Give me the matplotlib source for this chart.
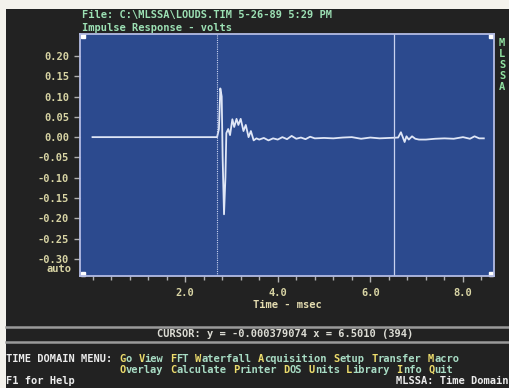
import matplotlib
matplotlib.use("Agg")
import matplotlib.pyplot as plt
from matplotlib.patches import Rectangle
from matplotlib.ticker import MultipleLocator, FixedLocator

# impulse response (msec, volts)
time_ms = [0.0, 1.0, 2.0, 2.69, 2.73, 2.76, 2.79, 2.81, 2.84, 2.87, 2.89, 2.93,
           2.97, 3.02, 3.06, 3.11, 3.15, 3.20, 3.26, 3.31, 3.37, 3.42, 3.48,
           3.54, 3.60, 3.70, 3.80, 3.90, 4.00, 4.10, 4.20, 4.30, 4.40, 4.50,
           4.60, 4.70, 4.80, 5.00, 5.20, 5.40, 5.60, 5.80, 6.00, 6.20, 6.40,
           6.60, 6.66, 6.70, 6.74, 6.78, 6.83, 6.90, 6.97, 7.05, 7.20, 7.40,
           7.60, 7.80, 8.00, 8.15, 8.25, 8.35, 8.45]
volts = [0.0, 0.0, 0.0, 0.0, 0.02, 0.12, 0.10, -0.05, -0.19, -0.10, 0.01, 0.02,
         0.005, 0.044, 0.025, 0.045, 0.03, 0.045, 0.015, 0.03, 0.0, 0.015, -0.008,
         -0.003, -0.006, -0.002, -0.008, -0.003, -0.006, 0.0, -0.005, 0.003, -0.004, -0.001,
         -0.005, 0.001, -0.003, -0.002, -0.003, -0.001, 0.0, -0.004, -0.001, -0.003, -0.002,
         -0.001, 0.012, 0.0, -0.012, 0.002, -0.006, 0.002, -0.004, -0.006, -0.006, -0.004,
         -0.003, -0.004, 0.0, -0.004, 0.002, -0.003, -0.003]

y_ticks = [-0.30, -0.25, -0.20, -0.15, -0.10, -0.05, 0.00, 0.05, 0.10, 0.15, 0.20]
x_ticks = [2.0, 4.0, 6.0, 8.0]
marker_x = 2.69
cursor_x = 6.5010

menu1 = ["Go", "View", "FFT", "Waterfall", "Acquisition", "Setup", "Transfer", "Macro"]
menu2 = ["Overlay", "Calculate", "Printer", "DOS", "Units", "Library", "Info", "Quit"]

W, H = 509, 388
FONT = "DejaVu Sans Mono"
FS = 7.5
CW = 6.3  # pixel width of one character

fig = plt.figure(figsize=(W / 100, H / 100), dpi=100)
fig.patch.set_facecolor("#f4f2ec")
fig.add_artist(Rectangle((6 / W, 0), 1, 1 - 9 / H, transform=fig.transFigure,
                         facecolor="#222222", edgecolor="none", zorder=0))


def put(x, y, s, color, ha="left"):
    fig.text(x / W, 1 - y / H, s, color=color, ha=ha, va="center",
             family=FONT, fontsize=FS, fontweight="bold")


ax = fig.add_axes([80 / W, 1 - 276 / H, (494 - 80) / W, (276 - 34) / H])
ax.set_facecolor("#2c4a8e")
ax.plot(time_ms, volts, color="#dfe6f6", lw=1.3)
ax.axvline(marker_x, color="#c8d2f0", lw=0.8, ls=(0, (1, 1)))
ax.axvline(cursor_x, color="#c8d2f0", lw=0.9)
ax.set_xlim(-0.27, 8.67)
ax.set_ylim(-0.342, 0.254)

for sp in ax.spines.values():
    sp.set_color("#b4bce4")
    sp.set_linewidth(1.3)

ax.xaxis.set_major_locator(FixedLocator(x_ticks))
ax.xaxis.set_minor_locator(MultipleLocator(0.4))
ax.set_xticklabels([f"{v:.1f}" for v in x_ticks])
ax.yaxis.set_major_locator(FixedLocator(y_ticks))
ax.set_yticklabels([f"{v:.2f}" for v in y_ticks])
ax.tick_params(colors="#b0b0b0", length=4, width=1, pad=4)
ax.tick_params(axis="x", which="minor", colors="#b0b0b0", length=3, width=1)
ax.tick_params(axis="x", pad=5)
for lab in ax.get_xticklabels() + ax.get_yticklabels():
    lab.set_color("#d8d4a4")
    lab.set_family(FONT)
    lab.set_fontsize(FS)
    lab.set_fontweight("bold")

ax.text(-0.02, 0.03, "auto", transform=ax.transAxes, ha="right", va="center",
        color="#d8d4a4", family=FONT, fontsize=FS, fontweight="bold")
ax.plot([0.008, 0.992, 0.008, 0.992], [0.01, 0.01, 0.99, 0.99], "s",
        color="white", ms=3, transform=ax.transAxes, clip_on=False)

# header lines
put(82, 15, "File: C:\\MLSSA\\LOUDS.TIM 5-26-89 5:29 PM", "#9ce0b4")
put(82, 28, "Impulse Response - volts", "#9ce0b4")
for i, ch in enumerate("MLSSA"):
    put(502, 43 + i * 11, ch, "#90e0a0", ha="center")

put(287, 305, "Time - msec", "#e4dcb0", ha="center")

# status area
for y in (327, 342):
    fig.add_artist(plt.Line2D([6 / W, 1], [1 - y / H] * 2, color="#9a9a9a", lw=1.8))
put(285, 334, "CURSOR: y = -0.000379074 x = 6.5010 (394)", "#dcdcd4", ha="center")

put(6, 359, "TIME DOMAIN MENU:", "#ececec")
for row, (y, words) in enumerate([(359, menu1), (370, menu2)]):
    col = 18
    for w in words:
        x = 6 + col * CW
        put(x, y, w[0], "#ecdc6c")
        put(x + CW, y, w[1:], "#a8dcc4")
        col += len(w) + 1

put(6, 381, "F1 for Help", "#ececec")
put(508, 381, "MLSSA: Time Domain", "#ececec", ha="right")

fig.savefig("out.png", dpi=100, facecolor=fig.get_facecolor())
